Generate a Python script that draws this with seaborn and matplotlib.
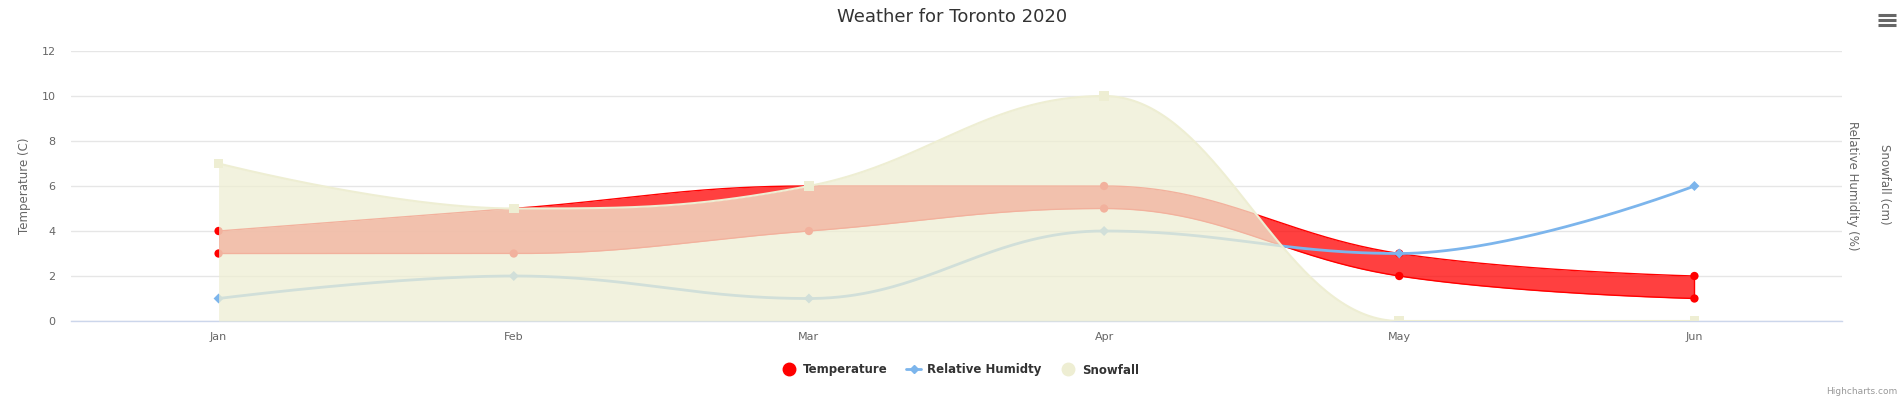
import numpy as np
import pandas as pd
import matplotlib
matplotlib.use("Agg")
import matplotlib.pyplot as plt
from matplotlib.lines import Line2D
import seaborn as sns

# ---- data ----
months = ["Jan", "Feb", "Mar", "Apr", "May", "Jun"]
temp_low = [3, 3, 4, 5, 2, 1]
temp_high = [4, 5, 6, 6, 3, 2]
humidity = [1, 2, 1, 4, 3, 6]
snowfall = [7, 5, 6, 10, 0, 0]
y_ticks = [0, 2, 4, 6, 8, 10, 12]

TITLE = "Weather for Toronto 2020"
W, H = 1904, 405

sns.set_theme(style="white")
plt.rcParams["font.family"] = ["DejaVu Sans"]


def hc_spline(ys, n=80):
    """Highcharts-style spline through category points (smoothing 1.5)."""
    xs = list(range(len(ys)))
    m = len(xs)
    left = [(x, y) for x, y in zip(xs, ys)]
    right = [(x, y) for x, y in zip(xs, ys)]
    sm, den = 1.5, 2.5
    for i in range(1, m - 1):
        x, y = xs[i], ys[i]
        lx, ly = xs[i - 1], ys[i - 1]
        nx, ny = xs[i + 1], ys[i + 1]
        lX = (sm * x + lx) / den
        lY = (sm * y + ly) / den
        rX = (sm * x + nx) / den
        rY = (sm * y + ny) / den
        if rX != lX:
            corr = ((rY - lY) * (rX - x)) / (rX - lX) + y - rY
            lY += corr
            rY += corr
        if lY > ly and lY > y:
            lY = max(ly, y); rY = 2 * y - lY
        elif lY < ly and lY < y:
            lY = min(ly, y); rY = 2 * y - lY
        if rY > ny and rY > y:
            rY = max(ny, y); lY = 2 * y - rY
        elif rY < ny and rY < y:
            rY = min(ny, y); lY = 2 * y - rY
        left[i] = (lX, lY)
        right[i] = (rX, rY)
    X, Y = [xs[0]], [ys[0]]
    t = np.linspace(0, 1, n)[1:]
    for i in range(1, m):
        p0 = np.array([xs[i - 1], ys[i - 1]], float)
        p1 = np.array(right[i - 1], float)
        p2 = np.array(left[i], float)
        p3 = np.array([xs[i], ys[i]], float)
        b = ((1 - t) ** 3)[:, None] * p0 + (3 * (1 - t) ** 2 * t)[:, None] * p1 \
            + (3 * (1 - t) * t ** 2)[:, None] * p2 + (t ** 3)[:, None] * p3
        X.extend(b[:, 0]); Y.extend(b[:, 1])
    return np.array(X), np.array(Y)


fig = plt.figure(figsize=(W / 100, H / 100), dpi=100)
fig.patch.set_facecolor("white")
ax = fig.add_axes([71 / W, 1 - 321 / H, (1842 - 71) / W, (321 - 51) / H])

RED = "#ff0000"
BLUE = "#7cb5ec"
SNOW = (238 / 255, 238 / 255, 211 / 255)

# Temperature range
xl, yl = hc_spline(temp_low)
xh, yh = hc_spline(temp_high)
ax.fill_between(xh, yl, yh, color=RED, alpha=0.75, lw=0, zorder=2)
sns.lineplot(x=xh, y=yh, color=RED, lw=1, ax=ax, zorder=2.1, sort=False)
sns.lineplot(x=xl, y=yl, color=RED, lw=1, ax=ax, zorder=2.1, sort=False)
ax.plot([xh[-1], xh[-1]], [yl[-1], yh[-1]], color=RED, lw=1, zorder=2.1)
tdf = pd.DataFrame({"x": list(range(len(months))) * 2, "y": temp_low + temp_high})
sns.scatterplot(data=tdf, x="x", y="y", color=RED, s=36, marker="o", edgecolor="none",
                ax=ax, zorder=2.2)

# Humidity
xhu, yhu = hc_spline(humidity)
sns.lineplot(x=xhu, y=yhu, color=BLUE, lw=2, ax=ax, zorder=3, sort=False)
sns.scatterplot(x=list(range(len(months))), y=humidity, color=BLUE, s=26, marker="D",
                edgecolor="none", ax=ax, zorder=3.1)

# Snowfall
xs_, ys_ = hc_spline(snowfall)
ax.fill_between(xs_, 0, ys_, color=SNOW, alpha=0.75, lw=0, zorder=4)
sns.lineplot(x=xs_, y=ys_, color=SNOW, lw=1.5, ax=ax, zorder=4.1, sort=False)
sns.scatterplot(x=list(range(len(months))), y=snowfall, color=SNOW, s=48, marker="s",
                edgecolor="none", ax=ax, zorder=4.2)

# Axes styling
ax.set_xlim(-0.5, len(months) - 0.5)
ax.set_ylim(0, 12)
ax.set_xticks(range(len(months)))
ax.set_xticklabels(months)
ax.set_yticks(y_ticks)
ax.set_yticklabels([str(v) for v in y_ticks])
ax.grid(axis="y", color="#e6e6e6", lw=1)
ax.set_axisbelow(True)
for s in ["top", "right", "left"]:
    ax.spines[s].set_visible(False)
ax.spines["bottom"].set_color("#ccd6eb")
ax.spines["bottom"].set_linewidth(1)
ax.tick_params(axis="both", length=0, colors="#666666", labelsize=8)
ax.tick_params(axis="y", pad=11)
ax.tick_params(axis="x", pad=8)
ax.set_xlabel("")
ax.set_ylabel("")

fig.text(952 / W, 1 - 17 / H, TITLE, ha="center", va="center", fontsize=13, color="#333333")
fig.text(25 / W, 1 - 186 / H, "Temperature (C)", rotation=90, ha="center", va="center",
         fontsize=8.5, color="#666666")
fig.text(1853 / W, 1 - 186 / H, "Relative Humidity (%)", rotation=270, ha="center", va="center",
         fontsize=8.5, color="#666666")
fig.text(1885 / W, 1 - 184 / H, "Snowfall (cm)", rotation=270, ha="center", va="center",
         fontsize=8.5, color="#666666")
fig.text(1897 / W, 1 - 392 / H, "Highcharts.com", ha="right", va="center",
         fontsize=6.5, color="#999999")

# hamburger menu
for yy in (15, 20, 25):
    fig.add_artist(Line2D([1878 / W, 1896 / W], [1 - yy / H, 1 - yy / H], color="#666666",
                          lw=2.2, solid_capstyle="butt"))

# Legend
handles = [
    Line2D([], [], color=RED, marker="o", ls="none", markersize=9),
    Line2D([], [], color=BLUE, marker="D", lw=2, markersize=4),
    Line2D([], [], color=SNOW, marker="o", ls="none", markersize=9),
]
labels = ["Temperature", "Relative Humidty", "Snowfall"]
leg = fig.legend(handles, labels, loc="center", bbox_to_anchor=(960 / W, 1 - 370 / H), ncol=3,
                 frameon=False, handlelength=1.3, columnspacing=1.6, handletextpad=0.5,
                 prop={"weight": "bold", "size": 8.5})
for t in leg.get_texts():
    t.set_color("#333333")

fig.savefig("out.png", dpi=100, facecolor="white")
